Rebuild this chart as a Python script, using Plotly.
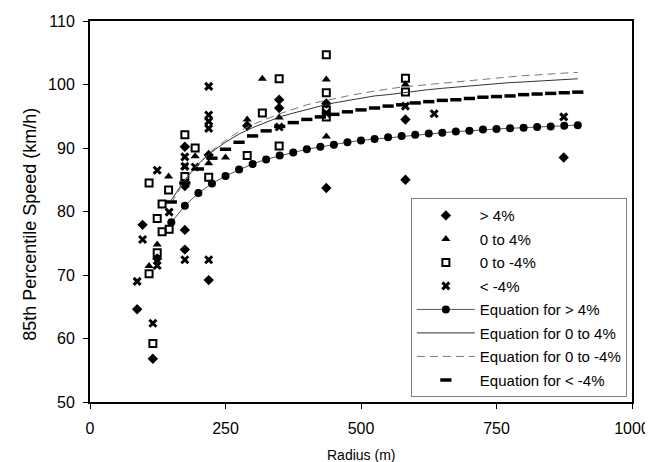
import plotly.graph_objects as go

# ---- observed data (radius m, 85th percentile speed km/h) ----
gt4_r = [87, 97, 116, 124, 175, 175, 175, 175, 219, 219, 290, 349, 349, 436, 436, 582, 582, 874]
gt4_v = [64.6, 77.9, 56.8, 72.6, 77.1, 74.0, 90.2, 84.0, 69.2, 88.9, 93.5, 97.6, 96.3, 97.0, 83.7, 94.5, 85.0, 88.5]

p0to4_r = [109, 124, 145, 175, 175, 194, 219, 250, 290, 318, 349, 436, 436, 582]
p0to4_v = [71.4, 74.8, 85.5, 87.0, 84.5, 88.7, 87.6, 88.5, 94.5, 100.9, 94.8, 100.8, 91.8, 100.0]

n0to4_r = [109, 109, 116, 124, 124, 133, 133, 145, 146, 175, 175, 194, 219, 290, 318, 349, 349, 436, 436, 436, 436, 582, 582]
n0to4_v = [84.5, 70.2, 59.2, 78.9, 73.5, 76.8, 81.2, 83.4, 77.2, 92.1, 85.5, 90.0, 85.4, 88.8, 95.5, 100.9, 90.3, 104.7, 98.7, 94.9, 96.0, 101.0, 98.8]

lt4_r = [87, 97, 116, 124, 124, 146, 175, 175, 175, 194, 219, 219, 219, 219, 219, 349, 436, 582, 635, 874]
lt4_v = [69.0, 75.6, 62.4, 86.5, 71.5, 79.9, 88.6, 87.1, 72.4, 87.0, 99.7, 95.2, 94.2, 93.1, 72.4, 93.3, 95.5, 96.6, 95.4, 94.9]

# equation curves
eq_r = [150, 175, 200, 225, 250, 275, 300, 325, 350, 375, 400, 425, 450, 475, 500, 525,
        550, 575, 600, 625, 650, 675, 700, 725, 750, 775, 800, 825, 850, 875, 900]
eq_gt4 = [78.3, 80.9, 82.9, 84.4, 85.6, 86.6, 87.5, 88.2, 88.8, 89.3, 89.8, 90.2, 90.5, 90.9, 91.2, 91.4,
          91.7, 91.9, 92.1, 92.3, 92.4, 92.6, 92.7, 92.9, 93.0, 93.1, 93.2, 93.3, 93.4, 93.5, 93.6]
eq_p0to4 = [81.8, 85.0, 87.5, 89.4, 90.9, 92.2, 93.2, 94.1, 94.9, 95.5, 96.1, 96.6, 97.1, 97.5, 97.8, 98.2,
            98.4, 98.7, 99.0, 99.2, 99.4, 99.6, 99.8, 100.0, 100.1, 100.3, 100.4, 100.5, 100.7, 100.8, 100.9]
eq_n0to4 = [81.3, 84.9, 87.5, 89.6, 91.2, 92.6, 93.7, 94.6, 95.4, 96.1, 96.8, 97.3, 97.8, 98.2, 98.6, 99.0,
            99.3, 99.6, 99.8, 100.1, 100.3, 100.5, 100.7, 100.9, 101.1, 101.2, 101.4, 101.5, 101.7, 101.8, 101.9]
eq_lt4 = [81.5, 84.5, 86.7, 88.4, 89.8, 90.9, 91.9, 92.7, 93.4, 94.0, 94.5, 94.9, 95.3, 95.7, 96.0, 96.3,
          96.6, 96.8, 97.1, 97.3, 97.5, 97.6, 97.8, 98.0, 98.1, 98.2, 98.4, 98.5, 98.6, 98.7, 98.8]

x_ticks = [0, 250, 500, 750, 1000]
y_ticks = [50, 60, 70, 80, 90, 100, 110]

FONT = "Arial, Liberation Sans, sans-serif"

fig = go.Figure()

fig.add_trace(go.Scatter(x=gt4_r, y=gt4_v, mode="markers", name="> 4%", legendgroup="a",
                         marker=dict(symbol="diamond", size=8, color="black")))
fig.add_trace(go.Scatter(x=p0to4_r, y=p0to4_v, mode="markers", name="0 to 4%", legendgroup="b",
                         marker=dict(symbol="triangle-up", size=8, color="black")))
fig.add_trace(go.Scatter(x=n0to4_r, y=n0to4_v, mode="markers", name="0 to -4%", legendgroup="c",
                         marker=dict(symbol="square-open", size=7, color="black", line=dict(width=2, color="black"))))
fig.add_trace(go.Scatter(x=lt4_r, y=lt4_v, mode="markers", name="< -4%", legendgroup="d",
                         marker=dict(symbol="x-thin-open", size=7, color="black", line=dict(width=3, color="black"))))

fig.add_trace(go.Scatter(x=eq_r, y=eq_gt4, mode="lines+markers", name="Equation for > 4%", legendgroup="e",
                         line=dict(color="#555555", width=1),
                         marker=dict(symbol="circle", size=8, color="black")))
fig.add_trace(go.Scatter(x=eq_r, y=eq_p0to4, mode="lines", name="Equation for 0 to 4%", legendgroup="f",
                         line=dict(color="#333333", width=1)))
fig.add_trace(go.Scatter(x=eq_r, y=eq_n0to4, mode="lines", name="Equation for 0 to -4%", legendgroup="g",
                         line=dict(color="#777777", width=1, dash="8px,5px")))
fig.add_trace(go.Scatter(x=eq_r, y=eq_lt4, mode="markers", name="Equation for < -4%", legendgroup="h",
                         marker=dict(symbol="line-ew-open", size=8, color="black",
                                     line=dict(width=3.5, color="black"))))

axis_common = dict(showline=True, linewidth=2, linecolor="black", mirror=True,
                   ticks="outside", ticklen=5, tickwidth=1, tickcolor="black",
                   showgrid=False, zeroline=False, automargin=False,
                   tickfont=dict(family=FONT, size=16, color="black"))

fig.update_xaxes(range=[0, 1000], tickvals=x_ticks, ticktext=[str(v) for v in x_ticks],
                 ticklabelstandoff=6, **axis_common)
fig.update_yaxes(range=[50, 110], tickvals=y_ticks, ticktext=[str(v) for v in y_ticks],
                 ticklabelstandoff=5, **axis_common)

PLOT_W = 653 - 82 - 29

fig.update_layout(
    width=653, height=462,
    margin=dict(l=82, r=29, t=13, b=68),
    paper_bgcolor="white", plot_bgcolor="white",
    font=dict(family=FONT, color="black"),
    legend=dict(x=0.592, y=0.535, xanchor="left", yanchor="top",
                bordercolor="#808080", borderwidth=1, bgcolor="white",
                font=dict(family=FONT, size=15, color="black"),
                itemwidth=58, tracegroupgap=1),
    annotations=[
        dict(text="Radius (m)", x=0.5, y=-0.138, xref="paper", yref="paper",
             xanchor="center", yanchor="middle", showarrow=False,
             font=dict(family=FONT, size=14, color="black")),
        dict(text="85th Percentile Speed (km/h)", x=(22 - 82) / PLOT_W, y=0.465,
             xref="paper", yref="paper",
             xanchor="center", yanchor="middle", showarrow=False, textangle=-90,
             font=dict(family=FONT, size=18, color="black")),
    ],
)

fig.write_html("out.html")
